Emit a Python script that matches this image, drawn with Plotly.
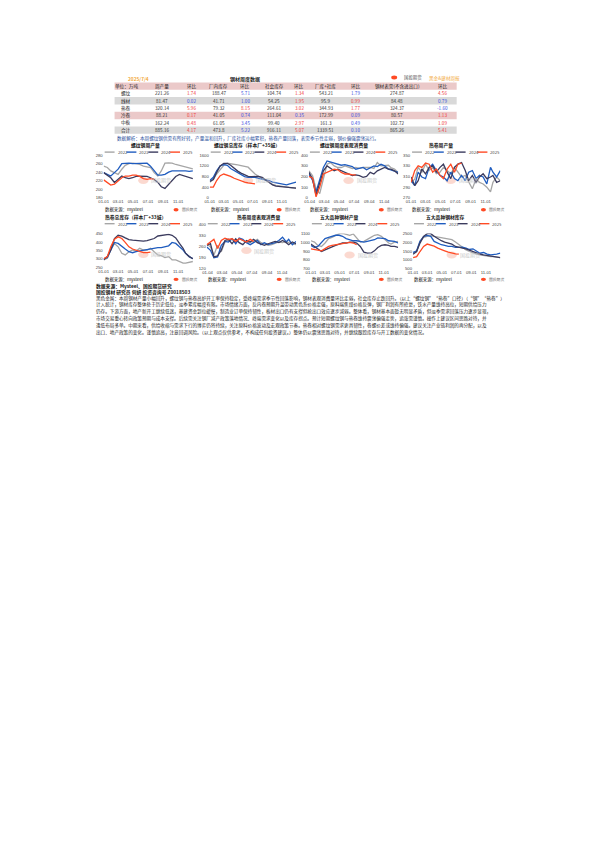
import plotly.graph_objects as go

FONT = "Noto Sans CJK SC"
W, H = 595, 842
DX, DY = 3.5, 1
GRAY, BLUE, DARK, RED = "#A6A6A6", "#1F5CBF", "#3B3B5E", "#FF4A24"

# ---------- table data ----------
table_date = "2025/7/4"
table_title = "钢材周度数据"
table_header = ["单位：万吨", "周产量", "环比", "厂内库存", "环比", "社会库存", "环比",
                "厂库+社库", "环比", "钢材表需(不含进出口)", "环比"]
row_names = ["螺纹", "线材", "热卷", "冷卷", "中板", "合计"]
row_rebar = ["221.26", "1.74", "188.47", "5.71", "104.74", "1.34", "543.21", "1.79", "274.87", "4.56"]
row_wire = ["81.47", "0.02", "41.71", "1.00", "54.25", "1.95", "95.9", "0.99", "84.48", "0.79"]
row_hrc = ["320.14", "5.96", "79.32", "8.15", "264.61", "3.02", "344.93", "1.77", "324.37", "-1.60"]
row_crc = ["88.21", "0.17", "41.05", "0.74", "111.04", "0.35", "172.99", "0.09", "80.57", "1.13"]
row_plate = ["162.24", "0.48", "61.05", "3.45", "99.40", "2.97", "161.3", "0.49", "102.72", "1.09"]
row_total = ["885.16", "4.17", "473.8", "5.22", "916.11", "5.07", "1339.51", "0.10", "865.26", "5.41"]
rows = [row_rebar, row_wire, row_hrc, row_crc, row_plate, row_total]
change_colors = [
    ["r", "b", "r", "b", "r"], ["b", "b", "r", "r", "b"], ["r", "r", "r", "r", "b"],
    ["r", "b", "b", "b", "r"], ["r", "b", "r", "b", "r"], ["r", "b", "r", "b", "r"],
]
table_note = "数据解析：本周螺纹钢供需有所好转，产量温和回升，厂库社库小幅累积，热卷产量回落，表需季节性走弱，钢价偏强震荡运行。"

# ---------- chart data ----------
weeks = ["01-01", "01-16", "01-30", "02-14", "03-01", "03-16", "03-30", "04-14", "04-29", "05-13",
         "05-28", "06-12", "06-27", "07-11", "07-26", "08-10", "08-24", "09-08", "09-23", "10-07",
         "10-22", "11-06", "11-21", "12-01", "12-16", "12-31"]
years = ["2022", "2023", "2024", "2025"]

rebar_output_22 = [254,251,243,239,235,247,256,260,261,260,258,254,253,251,239,231,243,261,262,261,258,256,254,253,251,248]
rebar_output_23 = [239,235,231,239,247,260,261,261,260,260,261,261,261,254,243,233,233,235,240,243,243,243,244,243,242,243]
rebar_output_24 = [239,233,227,216,224,231,227,225,227,230,231,231,230,227,223,216,206,202,212,220,230,235,232,230,227,225]
rebar_output_25 = [222,216,210,212,220,227,231,231,233,233,230,225,223,225,223]

rebar_stock_22 = [586,683,891,1074,1220,1293,1281,1257,1232,1208,1183,1147,1013,891,805,732,647,561,500,464,439,415,403,391,378,366]
rebar_stock_23 = [647,769,1013,1196,1244,1220,1098,1013,952,854,793,769,769,769,732,708,683,647,586,561,537,512,488,512,537,586]
rebar_stock_24 = [610,683,952,1196,1293,1293,1220,1098,1000,927,854,805,793,793,805,769,683,586,488,439,427,415,403,391,391,366]
rebar_stock_25 = [403,403,647,830,891,854,805,732,683,622,586,561,537,525]

rebar_demand_22 = [253,207,85,40,177,314,330,299,284,284,299,284,275,284,275,284,284,284,275,330,299,299,305,284,269,238]
rebar_demand_23 = [223,162,55,177,284,345,336,323,314,305,311,299,293,268,275,284,262,284,299,293,314,299,269,262,253,238]
rebar_demand_24 = [238,177,24,131,253,299,275,253,269,253,238,223,208,214,208,192,201,238,223,253,269,284,269,269,253,223]
rebar_demand_25 = [201,183,9,101,223,238,253,269,262,238,223,223,214,214]

hrc_output_22 = [299,305,327,318,333,321,327,315,318,327,321,315,327,318,309,312,299,287,305,299,296,290,281,299,309,302]
hrc_output_23 = [302,293,318,309,306,327,333,321,312,309,302,318,306,302,312,302,318,321,306,312,309,296,327,318,309,321]
hrc_output_24 = [309,293,302,324,315,327,330,318,327,333,318,306,327,333,336,321,302,312,299,309,315,306,309,312,299,302]
hrc_output_25 = [299,321,330,327,335,333,318,324,312,306,324,333,318,333,335]

hrc_stock_22 = [295,304,353,392,372,334,324,343,353,347,363,353,353,363,343,324,320,308,314,295,295,285,275,275,279,285]
hrc_stock_23 = [301,309,353,398,392,372,359,343,337,343,347,353,357,359,363,367,367,372,378,398,392,372,353,334,314,301]
hrc_stock_24 = [295,314,353,421,440,435,425,415,411,408,406,406,409,417,421,436,440,444,446,440,425,392,363,334,314,301]
hrc_stock_25 = [301,314,372,417,431,421,398,372,359,353,343,337,337,341]

hrc_demand_22 = [278,257,205,268,226,289,299,306,285,310,299,285,289,293,306,285,278,268,272,278,289,285,293,285,278,272]
hrc_demand_23 = [257,236,188,194,268,293,289,310,278,314,306,285,272,285,299,272,285,272,278,285,299,320,289,306,272,293]
hrc_demand_24 = [268,278,194,200,236,299,306,278,310,285,272,299,289,306,285,278,268,278,285,293,285,299,285,272,289,278]
hrc_demand_25 = [272,289,306,247,299,314,306,310,293,310,299,289,306,293]

five_output_22 = [1018,1003,964,953,992,1042,1057,1081,1100,1104,1096,1081,1096,1050,1003,1011,1030,1057,1081,1089,1069,1030,992,980,1003,1011]
five_output_23 = [964,941,953,992,1042,1057,1069,1081,1081,1069,1042,1030,1018,1018,1011,1003,1011,1018,1030,1050,1050,1042,1018,1018,1011,992]
five_output_24 = [980,953,925,894,914,933,953,964,980,992,992,1003,1003,992,953,887,875,875,902,941,964,972,964,953,953,941]
five_output_25 = [925,914,910,902,925,953,964,972,980,988,999,999,992,972]

five_stock_22 = [1375,1472,2054,2287,2345,2384,2345,2306,2248,2209,2190,2151,2015,1860,1705,1569,1472,1375,1317,1278,1239,1220,1181,1181,1161,1122]
five_stock_23 = [1414,1511,2054,2326,2403,2345,2054,1957,1860,1821,1763,1763,1705,1705,1725,1666,1588,1627,1472,1375,1414,1317,1278,1278,1317,1375]
five_stock_24 = [1317,1472,1957,2345,2500,2500,2345,2209,2093,2015,1957,1899,1763,1705,1666,1627,1550,1472,1375,1317,1278,1239,1200,1161,1142,1122]
five_stock_25 = [1122,1181,1472,1763,1899,1860,1782,1666,1569,1511,1433,1375,1336,1317]

tick_months = ["01", "03", "05", "07", "09", "11"]
source_text = "数据来源：mysteel"
logo_text = "国投期货"

footer_lines = [
    ("数据来源：Mysteel、国投期货研究", 286),
    ("国投钢材 研究员 何妍 投资咨询号 Z0018503", 292),
]
body_lines = [
    "黑色金属：本周钢材产量小幅回升，螺纹钢与热卷高炉开工率保持稳定，受终端需求季节性回落影响，钢材表观消费量环比走弱，社会库存止跌回升。（以上“螺纹钢”“热卷”口径）（“钢”“热卷”）",
    "计入统计，钢材库存整体处于历史低位，淡季累库幅度有限。市场情绪方面，反内卷预期升温带动黑色系价格走强，原料端焦煤价格反弹，钢厂利润有所修复，铁水产量维持高位，短期供给压力",
    "仍存。下游方面，地产新开工继续低迷，基建资金到位缓慢，制造业订单保持韧性，板材出口仍有支撑但抢出口效应逐步减弱。整体看，钢材基本面暂无明显矛盾，但淡季需求回落压力逐步显现，",
    "市场交易重心转向政策预期与成本支撑。后续需关注钢厂减产政策落地情况、终端需求变化以及库存拐点。预计短期螺纹钢与热卷维持震荡偏强走势，追涨需谨慎。操作上建议区间思路对待，并",
    "逢低布局多单。中期来看，供给收缩与需求下行的博弈仍将持续，关注原料价格波动及宏观政策节奏。热卷相对螺纹钢需求更具韧性，卷螺价差或维持偏强。建议关注产业链利润的再分配，以及",
    "出口、地产政策的变化。谨慎追高，注意回调风险。（以上观点仅供参考，不构成任何投资建议。）整体仍以震荡思路对待，并继续跟踪库存与开工数据的变化情况。",
]

charts = [
    ("螺纹钢周产量", 145, [rebar_output_22, rebar_output_23, rebar_output_24, rebar_output_25],
     [180, 200, 220, 240, 260, 280], "01", (103, 193, 154, 197)),
    ("螺纹钢总库存（样本厂+35城）", 248, [rebar_stock_22, rebar_stock_23, rebar_stock_24, rebar_stock_25],
     [0, 400, 800, 1200, 1600], "01", (210, 297, 154, 197)),
    ("螺纹钢周度表观消费量", 345, [rebar_demand_22, rebar_demand_23, rebar_demand_24, rebar_demand_25],
     [0, 100, 200, 300, 400], "04", (310, 400, 154, 197)),
    ("热卷周产量", 443, [hrc_output_22, hrc_output_23, hrc_output_24, hrc_output_25],
     [270, 290, 310, 330, 350], "01", (413, 503, 154, 197)),
    ("热卷总库存（样本厂+33城）", 135, [hrc_stock_22, hrc_stock_23, hrc_stock_24, hrc_stock_25],
     [250, 300, 350, 400, 450], "01", (103, 193, 233, 267)),
    ("热卷周度表观消费量", 259, [hrc_demand_22, hrc_demand_23, hrc_demand_24, hrc_demand_25],
     [120, 190, 260, 330, 400], "04", (207, 297, 224, 268)),
    ("五大品种钢材产量", 341, [five_output_22, five_output_23, five_output_24, five_output_25],
     [700, 800, 900, 1000, 1100], "01", (312, 400, 233, 268)),
    ("五大品种钢材库存", 448, [five_stock_22, five_stock_23, five_stock_24, five_stock_25],
     [500, 1000, 1500, 2000, 2500], "01", (415, 503, 233, 268)),
]

px = lambda x: (x - DX) / W
py = lambda y: 1 - (y - DY) / H
shapes, notes = [], []


def note(x, y, text, size=5, color="#222222", anchor="center", bold=False):
    notes.append(dict(x=px(x), y=py(y), xref="paper", yref="paper", text=f"<b>{text}</b>" if bold else text,
                      showarrow=False, xanchor=anchor, yanchor="middle",
                      font=dict(family=FONT, size=size, color=color)))


def rect(x0, y0, x1, y1, color, opacity=1):
    shapes.append(dict(type="rect", xref="paper", yref="paper", x0=px(x0), x1=px(x1), y0=py(y0), y1=py(y1),
                       fillcolor=color, line_width=0, opacity=opacity, layer="below"))


def blob(x, y, r, color, opacity=1):
    shapes.append(dict(type="circle", xref="paper", yref="paper", x0=px(x - r * 1.5), x1=px(x + r * 1.5),
                       y0=py(y + r), y1=py(y - r), fillcolor=color, line_width=0, opacity=opacity, layer="below"))


fig = go.Figure()
colors = [GRAY, BLUE, DARK, RED]
for i, (title, title_x, series, yticks, day, box) in enumerate(charts):
    left, right, top, bottom = box
    n = i + 1
    ax = "" if n == 1 else str(n)
    for name, values, color in zip(years, series, colors):
        fig.add_trace(go.Scatter(x=[f"2025-{d}" for d in weeks[:len(values)]], y=values, mode="lines", name=name,
                                 showlegend=False, line=dict(color=color, width=1.3),
                                 xaxis=f"x{ax}", yaxis=f"y{ax}"))
    tickvals = [f"2025-{m}-{day}" for m in tick_months]
    fig.update_layout({
        f"xaxis{ax}": dict(domain=[px(left), px(right)], anchor=f"y{ax}", type="date",
                           range=["2025-01-01", "2025-12-31"], tickvals=tickvals,
                           ticktext=[f"{m}-{day}" for m in tick_months], showgrid=False, zeroline=False,
                           showline=False, ticks="", tickangle=0, ticklen=0,
                           tickfont=dict(family="Liberation Sans", size=4.2, color="#444444")),
        f"yaxis{ax}": dict(domain=[py(bottom), py(top)], anchor=f"x{ax}", range=[yticks[0], yticks[-1]],
                           tickvals=yticks, showgrid=False, zeroline=False, showline=False, ticks="",
                           tickfont=dict(family="Liberation Sans", size=4.2, color="#444444")),
    })
    row1 = i < 4
    title_y = 144 if row1 else 216
    legend_y = 151 if row1 else 223
    source_y = 209 if row1 else 279
    mid = (left + right) / 2
    note(title_x, title_y, title, size=4.8, color="#111111", bold=True)
    lx = left + 1
    for name, color in zip(years, colors):
        shapes.append(dict(type="line", xref="paper", yref="paper", x0=px(lx), x1=px(lx + 10),
                           y0=py(legend_y), y1=py(legend_y), line=dict(color=color, width=1.4)))
        note(lx + 11, legend_y, name, size=4.2, color="#444444", anchor="left")
        lx += 22
    note(left - 1, source_y, source_text, size=4.4, color="#111111", anchor="left")
    # brand mark and watermark
    blob(right - 17, source_y, 1.7, RED)
    note(right - 13, source_y, logo_text, size=3.8, color="#666666", anchor="left")
    blob(mid - 5, (top + bottom) / 2 + 4, 3.5, "#F7B9AA", 0.55)
    note(mid + 1, (top + bottom) / 2 + 4, logo_text, size=5, color="#C8C8C8", anchor="left")

# ---------- table ----------
col_x = [126, 162, 192, 219, 246, 275, 300, 327, 357, 399, 445]
row_tops = [81, 88.3, 95.6, 103, 110.3, 118, 125.3, 132.6]
fills = ["#EBC9C9", None, "#D9D9D9", None, "#EBC9C9", None, "#D9D9D9"]
for k, fill in enumerate(fills):
    if fill:
        rect(114, row_tops[k], 459, row_tops[k + 1], fill)
for cx, label in zip(col_x, table_header):
    note(cx, (row_tops[0] + row_tops[1]) / 2, label, size=4.6, color="#222222")
palette = {"r": "#F03A3A", "b": "#3A4FE0"}
for r, (name, vals) in enumerate(zip(row_names, rows)):
    yc = (row_tops[r + 1] + row_tops[r + 2]) / 2
    note(col_x[0], yc, name, size=4.6, color="#222222")
    for c, text in enumerate(vals):
        color = "#333333" if c % 2 == 0 else palette[change_colors[r][c // 2]]
        note(col_x[c + 1], yc, text, size=4.6, color=color)
note(138, 77, table_date, size=4.8, color="#F2A93B", bold=True)
note(246, 77, table_title, size=5, color="#222222", bold=True)
blob(396, 76, 2, RED)
note(404, 76, logo_text, size=4.4, color="#555555", anchor="left")
note(429, 77, "黑金&建材周报", size=4.6, color="#F2A93B", anchor="left")
note(114, 137, table_note, size=4.6, color="#1F4E9B", anchor="left")

# ---------- footer ----------
for text, y in footer_lines:
    note(93, y, text, size=4.8, color="#111111", anchor="left", bold=True)
for k, line in enumerate(body_lines):
    note(93, 298 + k * 6.8, line, size=4.6, color="#222222", anchor="left")

fig.update_layout(width=W, height=H, autosize=False, margin=dict(l=0, r=0, t=0, b=0),
                  paper_bgcolor="white", plot_bgcolor="white", shapes=shapes, annotations=notes,
                  showlegend=False)
fig.write_html("out.html", config={"displayModeBar": False}, post_script="document.body.style.margin='0';")
